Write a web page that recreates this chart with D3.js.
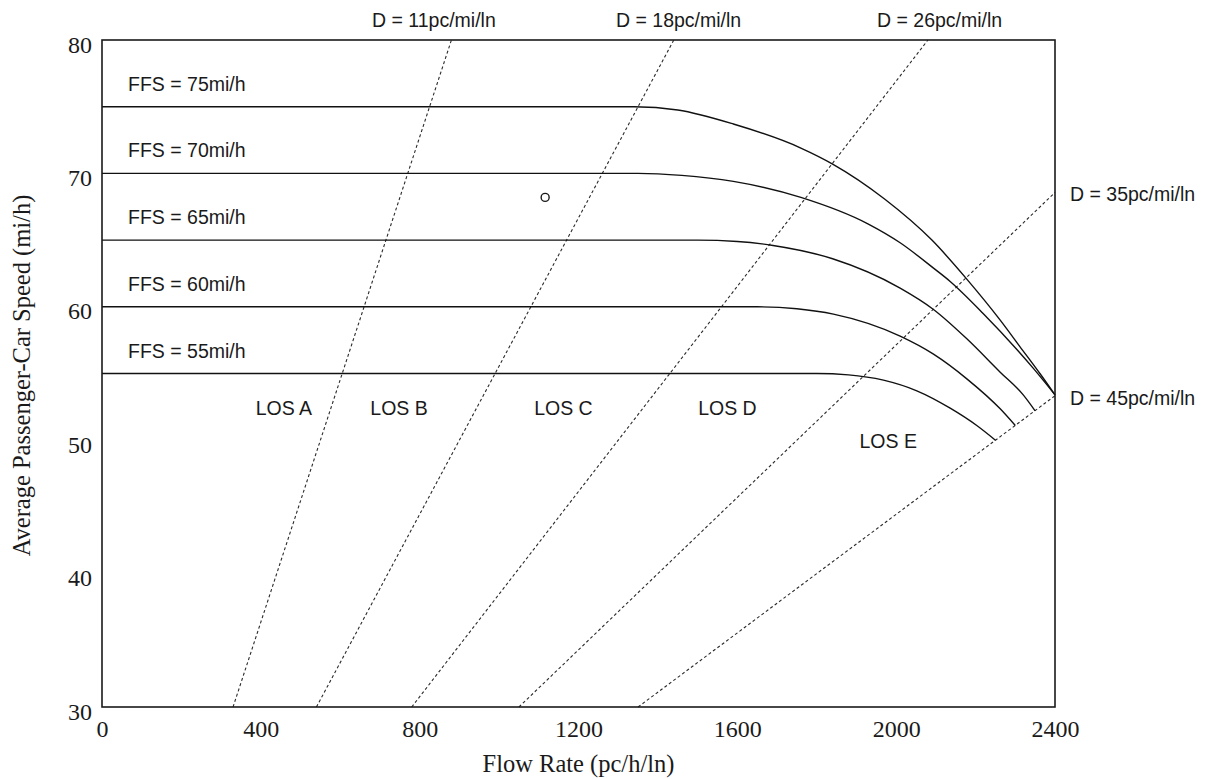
<!DOCTYPE html>
<html>
<head>
<meta charset="utf-8">
<script src="https://cdn.jsdelivr.net/npm/d3@7"></script>
<style>
  body { margin: 0; background: #fff; }
  svg { display: block; }
  .serif { font-family: "Liberation Serif", "Times New Roman", serif; fill: #1a1a1a; }
  .sans { font-family: "Liberation Sans", Arial, sans-serif; fill: #1a1a1a; }
</style>
</head>
<body>
<svg width="1209" height="779"></svg>
<script>
// Data
const xTicks = [0, 400, 800, 1200, 1600, 2000, 2400];
const yTicks = [30, 40, 50, 60, 70, 80];

// speed-flow curves, [flow pc/h/ln, speed mi/h]
const ffs75 = [[0, 75], [1340, 75], [1450, 74.75], [1590, 73.7], [1760, 71.9], [1840, 70.7], [1970, 68.1],
  [2090, 65.0], [2180, 62.0], [2262, 59.0], [2312, 57.0], [2362, 55.0], [2400, 53.4]];
const ffs70 = [[0, 70], [1350, 70], [1460, 69.85], [1590, 69.4], [1760, 68.2], [1930, 66.2], [2010, 64.8],
  [2094, 62.9], [2136, 61.9], [2219, 59.5], [2304, 56.8], [2345, 55.4], [2400, 53.4]];
const ffs65 = [[0, 65], [1500, 65], [1600, 64.9], [1690, 64.6], [1840, 63.6], [2010, 61.4], [2094, 59.8],
  [2178, 57.6], [2262, 55.1], [2320, 53.4], [2350, 52.2]];
const ffs60 = [[0, 60], [1650, 60], [1750, 59.85], [1842, 59.45], [2010, 57.8], [2094, 56.45], [2178, 54.6],
  [2262, 52.35], [2300, 51.1]];
const ffs55 = [[0, 55], [1800, 55], [1880, 54.9], [1968, 54.5], [2052, 53.7], [2136, 52.4], [2203, 51.1],
  [2250, 50.0]];
const curves = [ffs75, ffs70, ffs65, ffs60, ffs55];
const ffsNames = ["FFS = 75mi/h", "FFS = 70mi/h", "FFS = 65mi/h", "FFS = 60mi/h", "FFS = 55mi/h"];
const ffsValues = [75, 70, 65, 60, 55];

// density lines (pc/mi/ln)
const densities = [11, 18, 26, 35, 45];
const densityNames = ["D = 11pc/mi/ln", "D = 18pc/mi/ln", "D = 26pc/mi/ln", "D = 35pc/mi/ln", "D = 45pc/mi/ln"];

// level of service labels, [flow, speed]
const losNames = ["LOS A", "LOS B", "LOS C", "LOS D", "LOS E"];
const losPos = [[458, 51.9], [748, 51.9], [1162, 51.9], [1575, 51.9], [1980, 49.4]];

// single observed point
const point = [1116, 68.2];

const svg = d3.select("svg");
const x = d3.scaleLinear().domain([0, 2400]).range([102, 1055]);
const y = d3.scaleLinear().domain([30, 80]).range([707, 40]);

// density lines (dashed)
svg.append("g")
  .selectAll("line")
  .data(densities)
  .join("line")
  .attr("x1", d => x(30 * d))
  .attr("y1", y(30))
  .attr("x2", d => x(Math.min(80, 2400 / d) * d))
  .attr("y2", d => y(Math.min(80, 2400 / d)))
  .attr("stroke", "#2a2a2a")
  .attr("stroke-width", 1.1)
  .attr("stroke-dasharray", "3,2.5");

// speed-flow curves
const line = d3.line()
  .x(d => x(d[0]))
  .y(d => y(d[1]))
  .curve(d3.curveMonotoneX);

svg.append("g")
  .selectAll("path")
  .data(curves)
  .join("path")
  .attr("d", line)
  .attr("fill", "none")
  .attr("stroke", "#111")
  .attr("stroke-width", 1.4);

// frame
svg.append("rect")
  .attr("x", x(0))
  .attr("y", y(80))
  .attr("width", x(2400) - x(0))
  .attr("height", y(30) - y(80))
  .attr("fill", "none")
  .attr("stroke", "#1a1a1a")
  .attr("stroke-width", 1.6);

// axes
const xAxis = svg.append("g")
  .attr("transform", `translate(0,${y(30)})`)
  .call(d3.axisBottom(x).tickValues(xTicks).tickSize(0).tickFormat(d3.format("d")));
xAxis.select(".domain").remove();
xAxis.selectAll("text")
  .attr("class", "serif")
  .attr("y", 30)
  .attr("dy", 0)
  .style("font-size", "24px");

const yAxis = svg.append("g")
  .attr("transform", `translate(${x(0)},0)`)
  .call(d3.axisLeft(y).tickValues(yTicks).tickSize(0).tickFormat(d3.format("d")));
yAxis.select(".domain").remove();
yAxis.selectAll("text")
  .attr("class", "serif")
  .attr("x", -10)
  .attr("y", 12)
  .attr("dy", 0)
  .style("font-size", "24px");

// axis titles
svg.append("text")
  .attr("class", "serif")
  .attr("x", (x(0) + x(2400)) / 2)
  .attr("y", 772)
  .attr("text-anchor", "middle")
  .style("font-size", "24.5px")
  .text("Flow Rate (pc/h/ln)");

svg.append("text")
  .attr("class", "serif")
  .attr("transform", `translate(30,${(y(30) + y(80)) / 2 + 2}) rotate(-90)`)
  .attr("text-anchor", "middle")
  .style("font-size", "24.5px")
  .text("Average Passenger-Car Speed (mi/h)");

// FFS labels
svg.append("g")
  .selectAll("text")
  .data(ffsValues)
  .join("text")
  .attr("class", "sans")
  .attr("x", 128)
  .attr("y", d => y(d) - 16)
  .style("font-size", "19.5px")
  .text((d, i) => ffsNames[i]);

// density labels
svg.append("g")
  .selectAll("text")
  .data(densities)
  .join("text")
  .attr("class", "sans")
  .attr("x", (d, i) => i < 3 ? [372, 616, 877][i] : 1070)
  .attr("y", d => 2400 / d >= 80 ? 27 : y(2400 / d) + 9)
  .style("font-size", "19.5px")
  .text((d, i) => densityNames[i]);

// LOS labels
svg.append("g")
  .selectAll("text")
  .data(losPos)
  .join("text")
  .attr("class", "sans")
  .attr("x", d => x(d[0]))
  .attr("y", d => y(d[1]))
  .attr("text-anchor", "middle")
  .style("font-size", "19.5px")
  .text((d, i) => losNames[i]);

// observed point
svg.append("circle")
  .attr("cx", x(point[0]))
  .attr("cy", y(point[1]))
  .attr("r", 4)
  .attr("fill", "none")
  .attr("stroke", "#1a1a1a")
  .attr("stroke-width", 1.4);
</script>
</body>
</html>
